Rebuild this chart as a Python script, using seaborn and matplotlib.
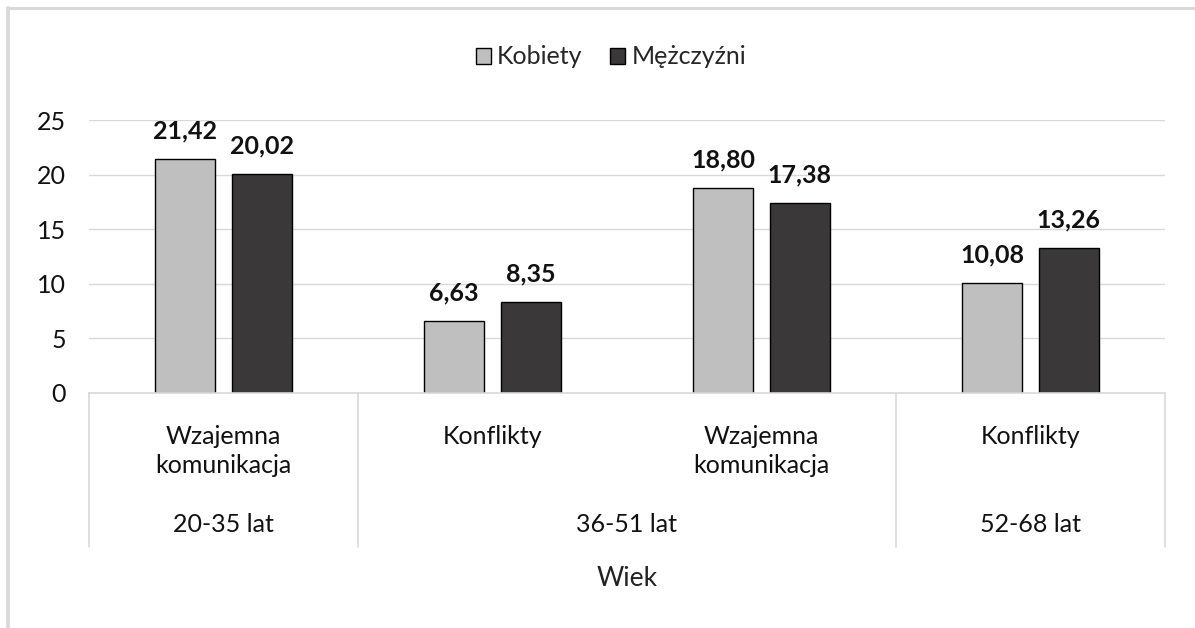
import pandas as pd
import numpy as np
import seaborn as sns
import matplotlib.pyplot as plt
from matplotlib.lines import Line2D
from matplotlib.transforms import blended_transform_factory

# Chart data
age_groups = ['20-35 lat', '36-51 lat', '52-68 lat']
age_of_category = ['20-35 lat', '36-51 lat', '36-51 lat', '52-68 lat']
categories = ['Wzajemna\nkomunikacja', 'Konflikty', 'Wzajemna\nkomunikacja', 'Konflikty']
kobiety = [21.42, 6.63, 18.80, 10.08]
mezczyzni = [20.02, 8.35, 17.38, 13.26]
series = ['Kobiety', 'Mężczyźni']
y_ticks = [0, 5, 10, 15, 20, 25]

rows = []
for i in range(len(categories)):
    rows.append({'pos': i, 'Płeć': series[0], 'value': kobiety[i]})
    rows.append({'pos': i, 'Płeć': series[1], 'value': mezczyzni[i]})
df = pd.DataFrame(rows)

sns.set_theme(style='white')
plt.rcParams['font.family'] = ['Lato', 'DejaVu Sans']
grid_col = '#D9D9D9'
fs = 18

W, H = 1195, 628
fig = plt.figure(figsize=(W / 100, H / 100), dpi=100)
ax = fig.add_axes([89 / W, 1 - 393 / H, 1076 / W, 273 / H])

sns.barplot(data=df, x='pos', y='value', hue='Płeć', hue_order=series,
            palette={'Kobiety': '#BFBFBF', 'Mężczyźni': '#3A3838'},
            edgecolor='black', linewidth=1, width=0.57, gap=0.22,
            order=list(range(len(categories))), ax=ax)

ax.set_xlim(-0.5, len(categories) - 0.5)
ax.set_ylim(0, 25)
ax.set_yticks(y_ticks)
ax.set_yticklabels([str(t) for t in y_ticks], fontsize=fs, color='#111111')
ax.tick_params(axis='y', length=0, pad=16.5)
ax.yaxis.grid(True, color=grid_col, linewidth=1)
ax.set_axisbelow(True)

ax.set_xticks(range(len(categories)))
ax.set_xticklabels(categories, fontsize=fs, color='#111111', linespacing=1.3)
ax.tick_params(axis='x', length=0, pad=23)
ax.set_xlabel('')
ax.set_ylabel('')

for s in ['left', 'right', 'top']:
    ax.spines[s].set_visible(False)
ax.spines['bottom'].set_color(grid_col)
ax.spines['bottom'].set_linewidth(1.2)

# data labels
for cont in ax.containers:
    vals = cont.datavalues
    ax.bar_label(cont, labels=[f'{v:.2f}'.replace('.', ',') for v in vals],
                 padding=12, fontsize=fs, fontweight='bold', color='#111111')

# multi-level axis separators
sep_bottom = -(547 - 393) / 273
for xs in [0, 0.25, 0.75, 1.0]:
    ax.plot([xs, xs], [0, sep_bottom], transform=ax.transAxes,
            color=grid_col, linewidth=1.2, clip_on=False)

# group labels
group_pos = {}
for i, g in enumerate(age_of_category):
    group_pos.setdefault(g, []).append(i)
tr = blended_transform_factory(ax.transData, fig.transFigure)
for g in age_groups:
    xc = np.mean(group_pos[g])
    ax.text(xc, 1 - 525 / H, g, transform=tr, ha='center', va='center',
            fontsize=fs, color='#111111')

fig.text(627 / W, 1 - 578 / H, 'Wiek', ha='center', va='center', fontsize=fs + 1, color='#222222')

# legend
sns.move_legend(ax, 'center', bbox_to_anchor=(611 / W, 1 - 57 / H), bbox_transform=fig.transFigure,
                ncol=2, frameon=False, title=None, fontsize=fs, handlelength=0.6,
                handleheight=0.6, handletextpad=0.25, columnspacing=1.1)

# chart frame (top and left edge visible)
fig.add_artist(Line2D([8 / W, 1], [1 - 7.5 / H, 1 - 7.5 / H], color=grid_col, linewidth=2.2))
fig.add_artist(Line2D([8 / W, 8 / W], [0, 1 - 7.5 / H], color=grid_col, linewidth=2.8))

fig.savefig('out.png', dpi=100)
